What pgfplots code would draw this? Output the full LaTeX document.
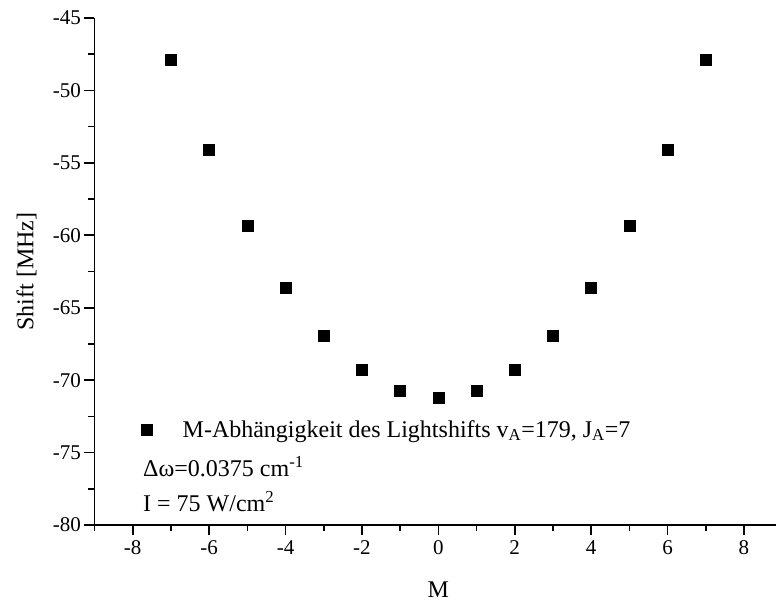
\documentclass[border=0pt]{standalone}
\usepackage{fontspec}
\setmainfont{Liberation Serif}
\usepackage{pgfplots}
\pgfplotsset{compat=1.18}
\begin{document}
\begin{tikzpicture}
\begin{axis}[
  scale only axis,
  anchor=south west,
  at={(0pt,0pt)},
  width=681.5pt, height=507pt,
  xmin=-9, xmax=8.84,
  ymin=-80, ymax=-45,
  axis x line*=bottom, axis y line*=left,
  axis line style={line width=1.6pt, -},
  xtick={-8,-6,...,8},
  minor xtick={-9,-7,...,7},
  ytick={-80,-75,...,-45},
  minor ytick={-77.5,-72.5,...,-47.5},
  tick align=outside,
  major tick length=10pt, minor tick length=6pt,
  every tick/.style={line width=1.6pt, black},
  tick label style={font=\fontsize{21}{23}\selectfont},
  xticklabel style={yshift=-2pt},
  /pgf/number format/assume math mode=true,
  xlabel={M}, ylabel={Shift [MHz]},
  label style={font=\fontsize{24}{26}\selectfont},
  xlabel style={at={(axis description cs:0.5045,0)}, anchor=center, yshift=-65pt},
  ylabel style={at={(axis description cs:0,0.5)}, anchor=center, yshift=68pt},
  legend style={draw=none, fill=none, at={(axis cs:-7.77,-73.4)}, anchor=west,
    inner sep=0pt, font=\fontsize{24}{26}\selectfont, legend cell align=left,
    nodes={inner sep=0pt}},
  legend image code/.code={\draw[#1] plot coordinates {(0pt,0pt)};},
]
\addplot[only marks, mark=square*, mark size=5.5pt, black] coordinates {
(-7,-47.9) (-6,-54.1) (-5,-59.35) (-4,-63.6) (-3,-66.95) (-2,-69.3) (-1,-70.7) (0,-71.2)
(1,-70.7) (2,-69.3) (3,-66.95) (4,-63.6) (5,-59.35) (6,-54.1) (7,-47.9)};
\addlegendentry{\hspace*{30pt}M-Abhängigkeit des Lightshifts v\textsubscript{A}=179, J\textsubscript{A}=7}
\node[anchor=base west, font=\fontsize{24}{26}\selectfont, inner sep=0pt] at (axis cs:-7.73,-76.66) {Δω=0.0375 cm\textsuperscript{-1}};
\node[anchor=base west, font=\fontsize{24}{26}\selectfont, inner sep=0pt] at (axis cs:-7.73,-79.07) {I = 75 W/cm\textsuperscript{2}};
\end{axis}
\pgfresetboundingbox
\path (-94.5pt,-79pt) rectangle (681.5pt,525pt);
\end{tikzpicture}
\end{document}
